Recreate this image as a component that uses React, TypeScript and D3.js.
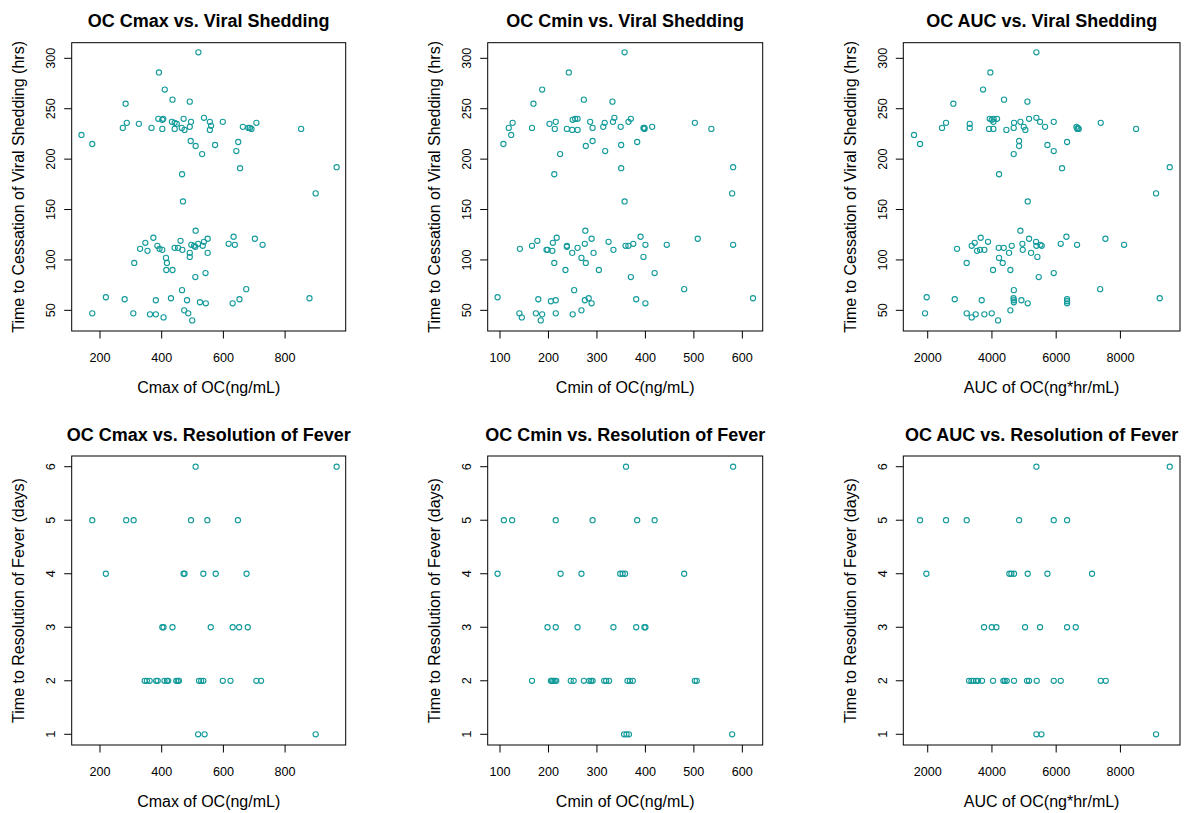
import React from 'react';
import * as d3 from 'd3';

type Pt = [number, number];

// ---- Data (x = drug exposure, y = outcome) ----
const cmaxShed: Pt[] = [
  [519,306],[391,286],[410,269],[435,259],[491,257],[283,255],[287,236],[274,231],[326,235],[367,231],[389,240],[402,239],[405,240],[402,230],[433,237],[442,236],[449,235],[442,230],[465,231],[471,240],[474,229],[491,232],[495,237],[494,218],[510,213],[531,205],[537,241],[556,237],[560,233],[556,229],[573,214],[598,237],[642,208],[648,217],[654,191],[663,232],[681,231],[686,231],[691,230],[707,236],[852,230],[899,166],[967,192],[140,224],[175,215],[466,185],[469,158],
  [510,129],[373,122],[347,117],[330,111],[354,109],[386,114],[393,111],[402,110],[311,97],[414,102],[417,97],[415,90],[435,90],[442,112],[453,112],[461,119],[467,110],[491,107],[491,103],[496,115],[505,114],[509,113],[518,116],[533,114],[537,118],[549,121],[549,107],[509,83],[542,87],[617,116],[633,123],[637,115],[702,121],[727,115],[466,70],[674,71],[219,63],[280,61],[430,62],[381,60],[482,60],[524,58],[543,57],[630,57],[652,61],[879,62],[175,47],[308,47],[362,46],[381,46],[406,43],[473,50],[486,47],[499,40]
];
const cminShed: Pt[] = [
  [357,306],[242,286],[187,269],[273,259],[332,257],[169,255],[126,236],[118,231],[123,224],[107,215],[166,231],[202,235],[215,237],[213,230],[238,230],[249,229],[250,239],[255,240],[260,240],[260,229],[286,237],[291,231],[277,213],[291,218],[224,205],[212,185],[313,232],[316,236],[333,237],[336,241],[349,232],[350,214],[317,208],[350,191],[357,158],[365,237],[370,240],[383,217],[396,231],[398,230],[398,231],[414,232],[502,236],[536,230],[579,166],[581,192],
  [276,129],[217,122],[177,119],[166,114],[141,111],[198,110],[196,110],[209,117],[208,109],[238,114],[238,113],[249,107],[260,112],[275,116],[289,121],[293,107],[268,102],[277,97],[212,97],[235,90],[304,90],[324,118],[334,110],[359,114],[365,114],[375,116],[390,123],[400,115],[396,103],[370,83],[419,87],[444,115],[508,121],[581,115],[253,70],[480,71],[95,63],[179,61],[205,59],[215,60],[275,60],[283,62],[289,57],[381,61],[400,57],[622,62],[140,47],[145,43],[174,47],[187,46],[184,40],[215,47],[250,46],[268,50]
];
const aucShed: Pt[] = [
  [5384,306],[3951,286],[3723,269],[4377,259],[5104,257],[2799,255],[2571,236],[2446,231],[1574,224],[1761,215],[3308,235],[3308,231],[3931,240],[3993,239],[4045,237],[4055,240],[4159,240],[3910,230],[4045,230],[4450,229],[4678,231],[4688,236],[4886,237],[4990,232],[5041,229],[5156,240],[4844,218],[4844,213],[4678,205],[4221,185],[5384,241],[5498,237],[5654,232],[5924,237],[5727,214],[5924,208],[6183,191],[6339,217],[5114,158],[6630,232],[6671,231],[6661,230],[6702,230],[7387,236],[8488,230],[9110,166],[9536,192],
  [4886,129],[6318,123],[3650,122],[3879,118],[3463,117],[3370,114],[2913,111],[3536,109],[3630,110],[3765,110],[4211,112],[4367,112],[4533,107],[4616,114],[4948,116],[4958,110],[5156,121],[5218,107],[5374,118],[5415,103],[5384,114],[5508,115],[5550,114],[6142,116],[6650,115],[7533,121],[8114,115],[4221,102],[3214,97],[4335,97],[4034,90],[4574,90],[5457,83],[5924,87],[4682,70],[7370,71],[1969,63],[2841,61],[3681,60],[4671,62],[4682,60],[4682,58],[4917,60],[5114,57],[6339,61],[6339,59],[6339,57],[9224,62],[1917,47],[3214,47],[3370,43],[3495,46],[3765,46],[3993,47],[4190,40],[4574,50]
];
const cmaxFever: Pt[] = [
  [510,6],[967,6],[175,5],[285,5],[309,5],[495,5],[548,5],[647,5],[219,4],[471,4],[474,4],[535,4],[575,4],[675,4],[402,3],[406,3],[435,3],[559,3],[630,3],[651,3],[679,3],[345,2],[352,2],[361,2],[382,2],[387,2],[409,2],[417,2],[421,2],[447,2],[452,2],[456,2],[521,2],[528,2],[535,2],[598,2],[623,2],[707,2],[722,2],[518,1],[539,1],[899,1]
];
const cminFever: Pt[] = [
  [360,6],[581,6],[108,5],[125,5],[215,5],[291,5],[383,5],[419,5],[95,4],[225,4],[268,4],[348,4],[353,4],[358,4],[480,4],[198,3],[215,3],[260,3],[334,3],[381,3],[398,3],[400,3],[166,2],[205,2],[207,2],[210,2],[213,2],[216,2],[246,2],[252,2],[273,2],[284,2],[288,2],[291,2],[315,2],[319,2],[325,2],[363,2],[368,2],[374,2],[502,2],[506,2],[356,1],[361,1],[366,1],[579,1]
];
const aucFever: Pt[] = [
  [5384,6],[9536,6],[1761,5],[2571,5],[3214,5],[4844,5],[5924,5],[6339,5],[1958,4],[4543,4],[4605,4],[4688,4],[5114,4],[5727,4],[7117,4],[3754,3],[3993,3],[4138,3],[5031,3],[5498,3],[6339,3],[6609,3],[3287,2],[3360,2],[3422,2],[3505,2],[3567,2],[3692,2],[4034,2],[4356,2],[4398,2],[4460,2],[4688,2],[5093,2],[5156,2],[5395,2],[5924,2],[6142,2],[7387,2],[7543,2],[5384,1],[5540,1],[9110,1]
];

const xTicksCmax = [200, 400, 600, 800];
const xTicksCmin = [100, 200, 300, 400, 500, 600];
const xTicksAuc = [2000, 4000, 6000, 8000];
const yTicksShed = [50, 100, 150, 200, 250, 300];
const yTicksFever = [1, 2, 3, 4, 5, 6];

const xLabels = ['Cmax of OC(ng/mL)', 'Cmin of OC(ng/mL)', 'AUC of OC(ng*hr/mL)'];
const yLabels = ['Time to Cessation of Viral Shedding (hrs)', 'Time to Resolution of Fever (days)'];
const titles = [
  ['OC Cmax vs. Viral Shedding', 'OC Cmin vs. Viral Shedding', 'OC AUC vs. Viral Shedding'],
  ['OC Cmax vs. Resolution of Fever', 'OC Cmin vs. Resolution of Fever', 'OC AUC vs. Resolution of Fever'],
];
const series: Pt[][][] = [
  [cmaxShed, cminShed, aucShed],
  [cmaxFever, cminFever, aucFever],
];

// ---- Layout ----
const COLS = [
  { left: 71.7, right: 345.7, domain: [108.3, 996.4], ticks: xTicksCmax },
  { left: 487.7, right: 762.7, domain: [74.6, 642], ticks: xTicksCmin },
  { left: 903.3, right: 1180, domain: [1240, 9855], ticks: xTicksAuc },
];
const ROWS = [
  { top: 42.7, bottom: 331, domain: [29.5, 315.5], ticks: yTicksShed },
  { top: 456, bottom: 745, domain: [0.8, 6.2], ticks: yTicksFever },
];

const FONT = "'Liberation Sans', Arial, Helvetica, sans-serif";
const PT_COLOR = '#139a9a';

function Panel({ r, c }: { r: number; c: number }) {
  const col = COLS[c];
  const row = ROWS[r];
  const x = d3.scaleLinear().domain(col.domain).range([col.left, col.right]);
  const y = d3.scaleLinear().domain(row.domain).range([row.bottom, row.top]);
  const cx = (col.left + col.right) / 2;
  const cy = (row.top + row.bottom) / 2;
  const pts = series[r][c];
  return (
    <g>
      <text x={cx} y={row.top - 15.5} textAnchor="middle" fontSize={18} fontWeight="bold" fontFamily={FONT} fill="#000">
        {titles[r][c]}
      </text>
      <rect x={col.left} y={row.top} width={col.right - col.left} height={row.bottom - row.top} fill="none" stroke="#000" strokeWidth={1} />
      {col.ticks.map((t) => (
        <g key={'x' + t}>
          <line x1={x(t)} x2={x(t)} y1={row.bottom} y2={row.bottom + 7.5} stroke="#000" strokeWidth={1} />
          <text x={x(t)} y={row.bottom + 30.5} textAnchor="middle" fontSize={12.6} fontFamily={FONT} fill="#000">{t}</text>
        </g>
      ))}
      {row.ticks.map((t) => (
        <g key={'y' + t}>
          <line x1={col.left - 7.5} x2={col.left} y1={y(t)} y2={y(t)} stroke="#000" strokeWidth={1} />
          <text transform={`translate(${col.left - 16.7},${y(t)}) rotate(-90)`} textAnchor="middle" fontSize={12.6} fontFamily={FONT} fill="#000">{t}</text>
        </g>
      ))}
      <text x={cx} y={row.bottom + 61.5} textAnchor="middle" fontSize={16} fontFamily={FONT} fill="#000">{xLabels[c]}</text>
      <text transform={`translate(${col.left - 47.7},${cy}) rotate(-90)`} textAnchor="middle" fontSize={16} fontFamily={FONT} fill="#000">{yLabels[r]}</text>
      {pts.map((p, i) => (
        <circle key={i} cx={x(p[0])} cy={y(p[1])} r={2.6} fill="none" stroke={PT_COLOR} strokeWidth={1.1} />
      ))}
    </g>
  );
}

export default function App() {
  return (
    <svg width={1192} height={813} style={{ position: 'absolute', left: 0, top: 0, background: '#fff' }}>
      <rect width={1192} height={813} fill="#fff" />
      {[0, 1].map((r) => [0, 1, 2].map((c) => <Panel key={r + '-' + c} r={r} c={c} />))}
    </svg>
  );
}
